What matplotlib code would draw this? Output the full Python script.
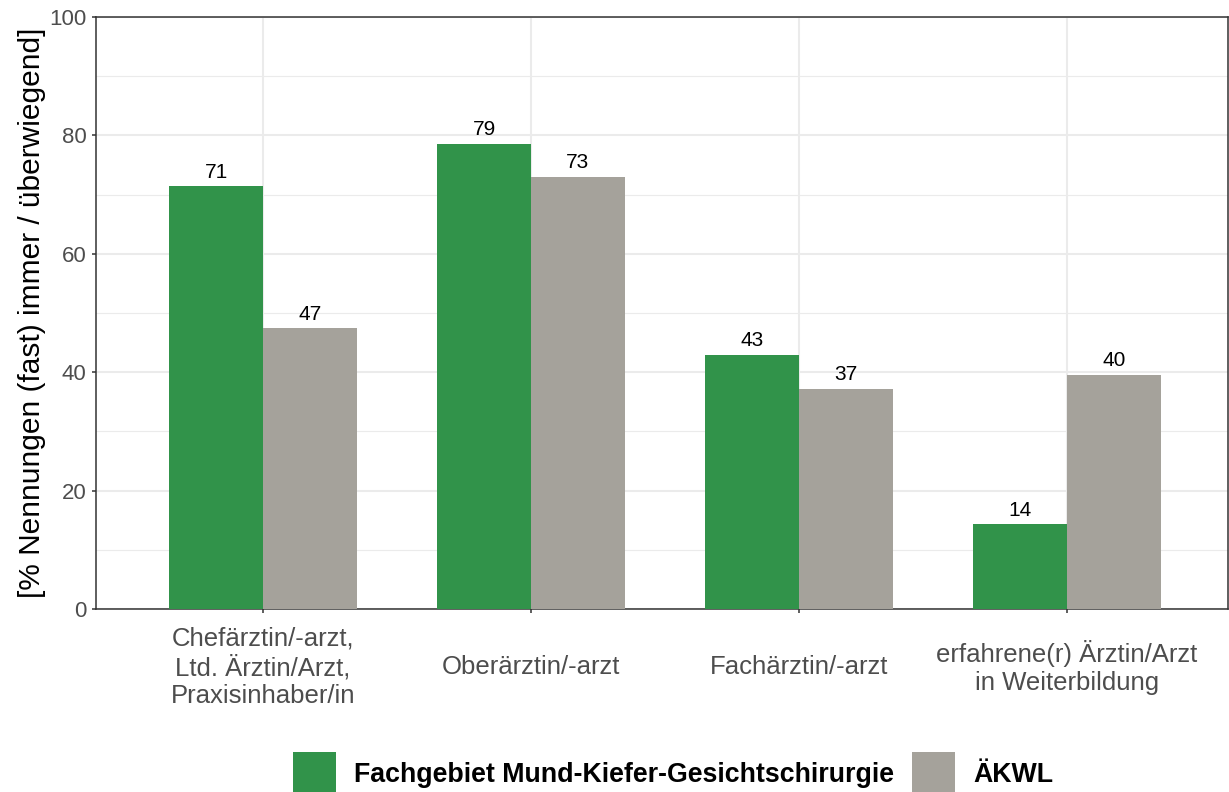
import numpy as np
import matplotlib
matplotlib.use("Agg")
import matplotlib.pyplot as plt
from matplotlib.patches import Patch

plt.rcParams["font.family"] = ["Liberation Sans", "DejaVu Sans"]

categories = [
    "Chefärztin/-arzt,\nLtd. Ärztin/Arzt,\nPraxisinhaber/in",
    "Oberärztin/-arzt",
    "Fachärztin/-arzt",
    "erfahrene(r) Ärztin/Arzt\nin Weiterbildung",
]
mkg = [71.4, 78.6, 42.9, 14.3]
akwl = [47.4, 73.0, 37.2, 39.5]
series_names = ["Fachgebiet Mund-Kiefer-Gesichtschirurgie", "ÄKWL"]
colors = ["#31934A", "#A5A29B"]

fig = plt.figure(figsize=(12.29, 7.92), dpi=100)
ax = fig.add_axes([0.0781, 0.231, 0.9209, 0.7475])

x = np.arange(len(categories)) + 1
w = 0.35
for vals, off, col in [(mkg, -w / 2, colors[0]), (akwl, w / 2, colors[1])]:
    bars = ax.bar(x + off, vals, width=w, color=col, zorder=3)
    for b, v in zip(bars, vals):
        ax.text(b.get_x() + b.get_width() / 2, v + 0.8, f"{round(v):d}",
                ha="center", va="bottom", fontsize=15, color="black", zorder=4)

ax.set_xlim(0.377, 4.6)
ax.set_ylim(0, 100)
ax.set_yticks(np.arange(0, 101, 20))
ax.set_yticks(np.arange(10, 100, 20), minor=True)
ax.set_xticks(x)
ax.set_xticklabels(categories, fontsize=18.5, color="#4D4D4D", linespacing=1.2, va="center")
ax.tick_params(axis="y", labelsize=16, labelcolor="#4D4D4D", pad=4)
ax.tick_params(axis="both", which="major", color="#333333", length=2.9, width=1.1)
ax.tick_params(axis="y", which="minor", length=0)
ax.tick_params(axis="x", pad=39)

ax.grid(which="major", color="#EBEBEB", lw=1.5, zorder=0)
ax.grid(which="minor", axis="y", color="#EBEBEB", lw=0.8, zorder=0)
ax.set_axisbelow(True)
for s in ax.spines.values():
    s.set_color("#333333")
    s.set_linewidth(1.1)

ax.set_ylabel("[% Nennungen (fast) immer / überwiegend]", fontsize=21.5, color="black", labelpad=2.5)

handles = [Patch(facecolor=c, edgecolor="none") for c in colors]
leg = fig.legend(handles, series_names, loc="center", bbox_to_anchor=(0.5476, 0.024),
                 ncol=2, frameon=False, prop={"size": 19.3, "weight": "bold"},
                 handlelength=1.6, handleheight=2.0, columnspacing=0.7, handletextpad=0.67)

fig.savefig("out.png", dpi=100)
